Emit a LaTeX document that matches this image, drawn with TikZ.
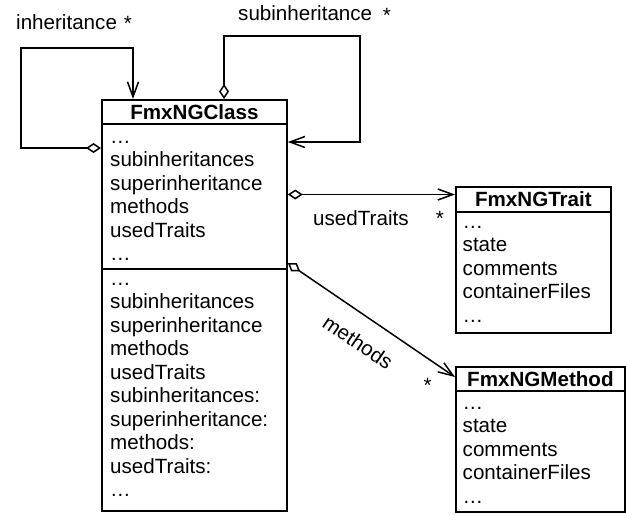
\documentclass[tikz,border=0pt]{standalone}
\usepackage{fontspec}
\setmainfont{Liberation Sans}
\usetikzlibrary{arrows.meta}
\begin{document}
\begin{tikzpicture}[x=1pt,y=-1pt,
  txt/.style={font=\fontsize{20.6}{23.5}\selectfont},
  box/.style={draw, line width=1.8pt, inner sep=0pt, anchor=north west},
  hdr/.style={box, txt, font=\bfseries\fontsize{20.6}{23.5}\selectfont},
  body/.style={inner sep=0pt, anchor=north west, align=left, txt},
  lbl/.style={inner sep=0pt, txt},
  conn/.style={line width=1.5pt},
  agg/.style={conn, {Diamond[open,length=15pt,width=10pt]}-{Straight Barb[length=15pt,width=11pt]}}
]
\useasboundingbox (0,0) rectangle (626,514);

% FmxNGClass
\node[hdr, minimum width=185pt, minimum height=24.3pt] (clsh) at (101,99) {FmxNGClass};
\node[box, minimum width=185pt, minimum height=144.7pt] (c1) at (101,123.3) {};
\node[box, minimum width=185pt, minimum height=242pt] (c2) at (101,268) {};
\node[body] (c1t) at (110,126.55) {\strut…\\subinheritances\\superinheritance\\methods\\usedTraits\\…};
\node[body] (c2t) at (110,268.55) {\strut…\\subinheritances\\superinheritance\\methods\\usedTraits\\subinheritances:\\superinheritance:\\methods:\\usedTraits:\\…};

% FmxNGTrait
\node[hdr, minimum width=155pt, minimum height=24.7pt] (trh) at (455,186) {FmxNGTrait};
\node[box, minimum width=155pt, minimum height=121.3pt] (trb) at (455,210.7) {};
\node[body] (trt) at (462.5,211.55) {\strut…\\state\\comments\\containerFiles\\…};

% FmxNGMethod
\node[hdr, minimum width=169pt, minimum height=24pt] (mh) at (455,366) {FmxNGMethod};
\node[box, minimum width=169pt, minimum height=121pt] (mb) at (455,390) {};
\node[body] (mt) at (462.5,392.55) {\strut…\\state\\comments\\containerFiles\\…};

% labels
\node[lbl, anchor=base west] (l1) at (16,29.5) {inheritance};
\node[lbl, anchor=base] (m1) at (128,30.5) {*};
\node[lbl, anchor=base west] (l2) at (238,20.5) {subinheritance};
\node[lbl, anchor=base] (m2) at (387,22) {*};
\node[lbl, anchor=base west] (l3) at (313,225.5) {usedTraits};
\node[lbl, anchor=base] (m3) at (440,225.5) {*};
\node[lbl, rotate=-34] (l4) at (358,342) {methods};
\node[lbl, anchor=base] (m4) at (427.7,392) {*};

% connectors
\draw[agg] (c1.west |- 0,148) -| (21,48) -| (clsh.north -| 133,0);
\draw[agg] (clsh.north -| 224,0) |- (360,36) |- (c1.east |- 0,142);
\draw[agg] (c1.east |- 0,194.5) -- (trh.west |- 0,194.5);
\draw[agg] (c1.east |- 0,263) -- (mh.west |- 0,377);
\end{tikzpicture}
\end{document}
